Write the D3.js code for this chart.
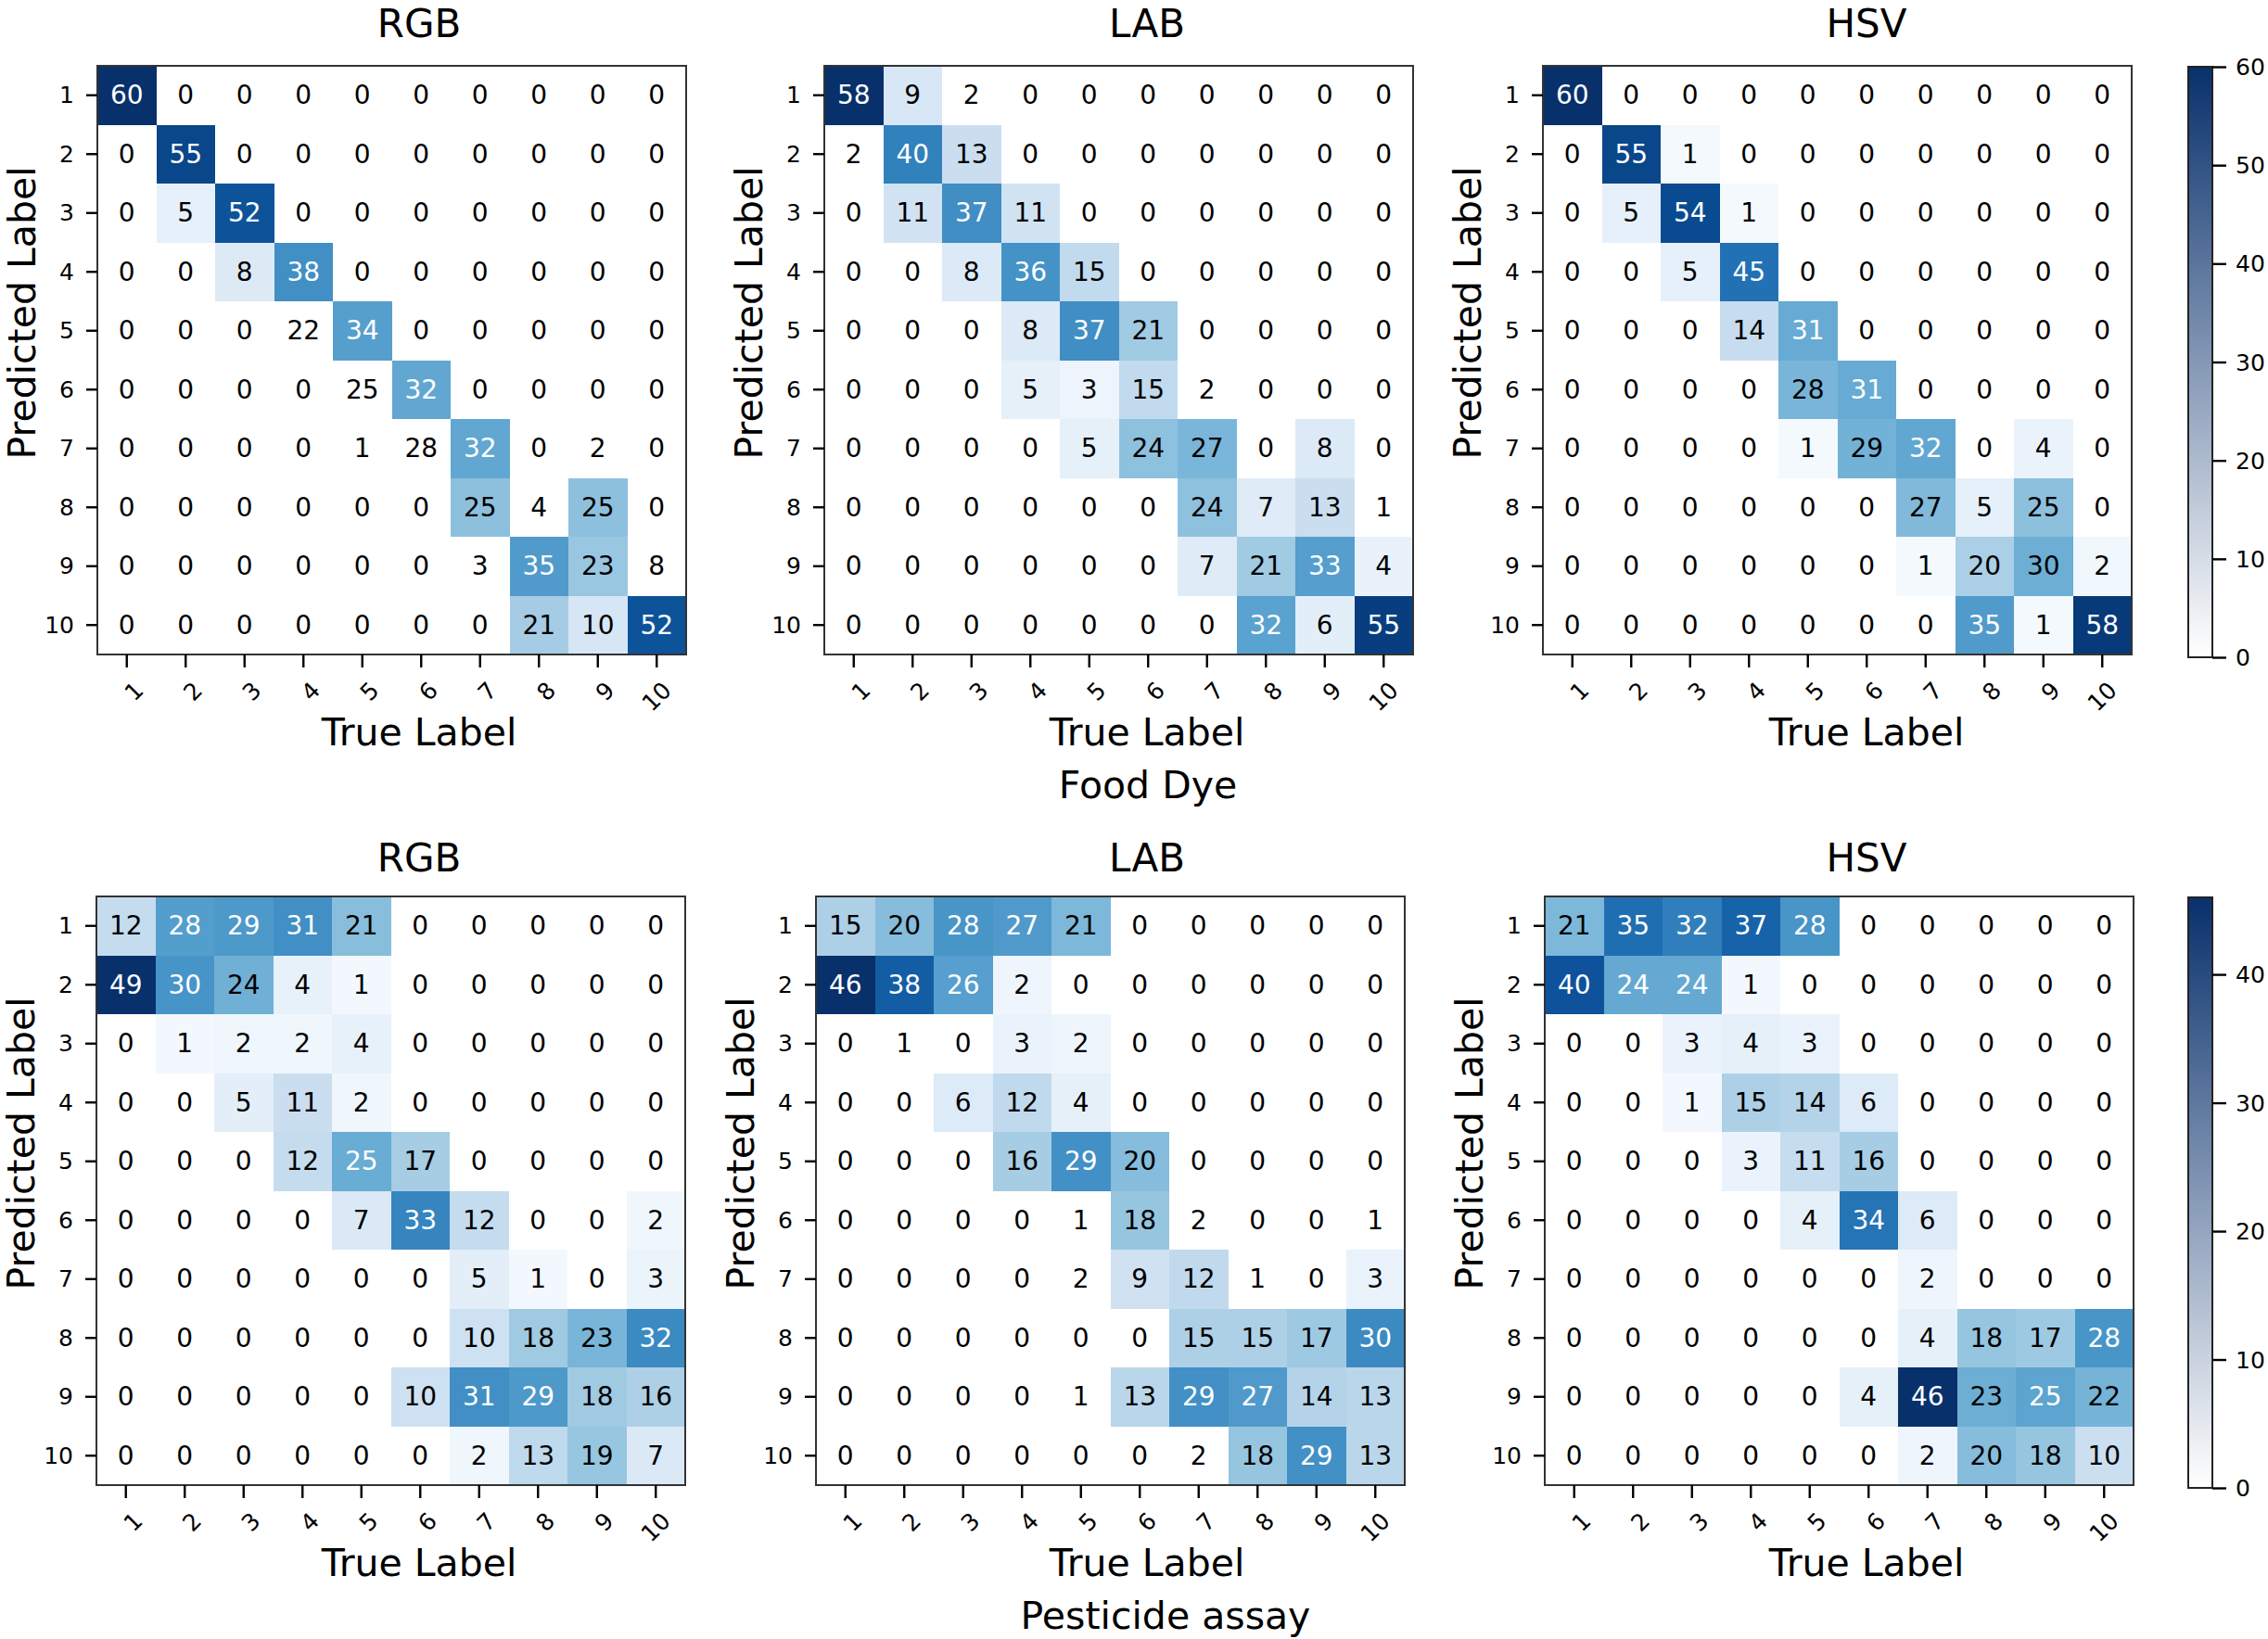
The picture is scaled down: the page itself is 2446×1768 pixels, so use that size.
<!DOCTYPE html>
<html>
<head>
<meta charset="utf-8">
<script src="https://cdn.jsdelivr.net/npm/d3@7"></script>
<style>
  body { margin: 0; background: #fff; }
  text { font-family: "DejaVu Sans", sans-serif; }
</style>
</head>
<body>
<div id="chart"></div>
<script>
// class labels shared by every matrix
var classLabels = ["1", "2", "3", "4", "5", "6", "7", "8", "9", "10"];

// Food dye confusion matrices (rows = predicted, cols = true)
var foodRgb = [
    [60, 0, 0, 0, 0, 0, 0, 0, 0, 0],
    [0, 55, 0, 0, 0, 0, 0, 0, 0, 0],
    [0, 5, 52, 0, 0, 0, 0, 0, 0, 0],
    [0, 0, 8, 38, 0, 0, 0, 0, 0, 0],
    [0, 0, 0, 22, 34, 0, 0, 0, 0, 0],
    [0, 0, 0, 0, 25, 32, 0, 0, 0, 0],
    [0, 0, 0, 0, 1, 28, 32, 0, 2, 0],
    [0, 0, 0, 0, 0, 0, 25, 4, 25, 0],
    [0, 0, 0, 0, 0, 0, 3, 35, 23, 8],
    [0, 0, 0, 0, 0, 0, 0, 21, 10, 52]
];
var foodLab = [
    [58, 9, 2, 0, 0, 0, 0, 0, 0, 0],
    [2, 40, 13, 0, 0, 0, 0, 0, 0, 0],
    [0, 11, 37, 11, 0, 0, 0, 0, 0, 0],
    [0, 0, 8, 36, 15, 0, 0, 0, 0, 0],
    [0, 0, 0, 8, 37, 21, 0, 0, 0, 0],
    [0, 0, 0, 5, 3, 15, 2, 0, 0, 0],
    [0, 0, 0, 0, 5, 24, 27, 0, 8, 0],
    [0, 0, 0, 0, 0, 0, 24, 7, 13, 1],
    [0, 0, 0, 0, 0, 0, 7, 21, 33, 4],
    [0, 0, 0, 0, 0, 0, 0, 32, 6, 55]
];
var foodHsv = [
    [60, 0, 0, 0, 0, 0, 0, 0, 0, 0],
    [0, 55, 1, 0, 0, 0, 0, 0, 0, 0],
    [0, 5, 54, 1, 0, 0, 0, 0, 0, 0],
    [0, 0, 5, 45, 0, 0, 0, 0, 0, 0],
    [0, 0, 0, 14, 31, 0, 0, 0, 0, 0],
    [0, 0, 0, 0, 28, 31, 0, 0, 0, 0],
    [0, 0, 0, 0, 1, 29, 32, 0, 4, 0],
    [0, 0, 0, 0, 0, 0, 27, 5, 25, 0],
    [0, 0, 0, 0, 0, 0, 1, 20, 30, 2],
    [0, 0, 0, 0, 0, 0, 0, 35, 1, 58]
];

// Pesticide assay confusion matrices
var pestRgb = [
    [12, 28, 29, 31, 21, 0, 0, 0, 0, 0],
    [49, 30, 24, 4, 1, 0, 0, 0, 0, 0],
    [0, 1, 2, 2, 4, 0, 0, 0, 0, 0],
    [0, 0, 5, 11, 2, 0, 0, 0, 0, 0],
    [0, 0, 0, 12, 25, 17, 0, 0, 0, 0],
    [0, 0, 0, 0, 7, 33, 12, 0, 0, 2],
    [0, 0, 0, 0, 0, 0, 5, 1, 0, 3],
    [0, 0, 0, 0, 0, 0, 10, 18, 23, 32],
    [0, 0, 0, 0, 0, 10, 31, 29, 18, 16],
    [0, 0, 0, 0, 0, 0, 2, 13, 19, 7]
];
var pestLab = [
    [15, 20, 28, 27, 21, 0, 0, 0, 0, 0],
    [46, 38, 26, 2, 0, 0, 0, 0, 0, 0],
    [0, 1, 0, 3, 2, 0, 0, 0, 0, 0],
    [0, 0, 6, 12, 4, 0, 0, 0, 0, 0],
    [0, 0, 0, 16, 29, 20, 0, 0, 0, 0],
    [0, 0, 0, 0, 1, 18, 2, 0, 0, 1],
    [0, 0, 0, 0, 2, 9, 12, 1, 0, 3],
    [0, 0, 0, 0, 0, 0, 15, 15, 17, 30],
    [0, 0, 0, 0, 1, 13, 29, 27, 14, 13],
    [0, 0, 0, 0, 0, 0, 2, 18, 29, 13]
];
var pestHsv = [
    [21, 35, 32, 37, 28, 0, 0, 0, 0, 0],
    [40, 24, 24, 1, 0, 0, 0, 0, 0, 0],
    [0, 0, 3, 4, 3, 0, 0, 0, 0, 0],
    [0, 0, 1, 15, 14, 6, 0, 0, 0, 0],
    [0, 0, 0, 3, 11, 16, 0, 0, 0, 0],
    [0, 0, 0, 0, 4, 34, 6, 0, 0, 0],
    [0, 0, 0, 0, 0, 0, 2, 0, 0, 0],
    [0, 0, 0, 0, 0, 0, 4, 18, 17, 28],
    [0, 0, 0, 0, 0, 4, 46, 23, 25, 22],
    [0, 0, 0, 0, 0, 0, 2, 20, 18, 10]
];

// cells (row, col, 1-based) that carry a count but are left unshaded in the figure
var foodRgbUnshaded = [[5, 4], [6, 5], [7, 5], [7, 6], [7, 9], [8, 8], [9, 7], [9, 10]];
var foodLabUnshaded = [[1, 3], [2, 1], [6, 7], [8, 10]];
var pestLabUnshaded = [[3, 2], [6, 5], [6, 7], [6, 10], [7, 5], [7, 8], [9, 5], [10, 7]];

// colourbar ticks
var foodTicks = [0, 10, 20, 30, 40, 50, 60];
var pestTicks = [0, 10, 20, 30, 40];

var W = 2446, H = 1768;
var size = 635;
var tickFont = 25, cellFont = 28, labelFont = 41;
var labelCenters = [452, 1237, 2013];

var svg = d3.select("#chart")
    .append("svg")
    .attr("width", W)
    .attr("height", H);

function drawMatrix(opts) {
    var matrix = opts.matrix;
    var unshaded = opts.unshaded || [];
    var vmax = d3.max(matrix, function (r) { return d3.max(r); });

    var x = d3.scaleBand().domain(classLabels).range([0, size]);
    var y = d3.scaleBand().domain(classLabels).range([0, size]);
    var color = d3.scaleSequential(d3.interpolateBlues).domain([0, vmax]);

    var g = svg.append("g")
        .attr("transform", "translate(" + opts.x + "," + opts.y + ")");

    var cells = [];
    matrix.forEach(function (row, i) {
        row.forEach(function (v, j) {
            var blank = unshaded.some(function (c) { return c[0] === i + 1 && c[1] === j + 1; });
            cells.push({ row: classLabels[i], col: classLabels[j], value: v, blank: blank });
        });
    });

    g.selectAll("rect.cell")
        .data(cells)
        .enter()
        .append("rect")
        .attr("class", "cell")
        .attr("x", function (d) { return x(d.col); })
        .attr("y", function (d) { return y(d.row); })
        .attr("width", x.bandwidth() + 0.5)
        .attr("height", y.bandwidth() + 0.5)
        .attr("shape-rendering", "crispEdges")
        .style("fill", function (d) {
            return (d.value === 0 || d.blank) ? "#ffffff" : color(d.value);
        });

    // matplotlib style: white text when above the midpoint
    g.selectAll("text.val")
        .data(cells)
        .enter()
        .append("text")
        .attr("class", "val")
        .attr("x", function (d) { return x(d.col) + x.bandwidth() / 2; })
        .attr("y", function (d) { return y(d.row) + y.bandwidth() / 2; })
        .attr("text-anchor", "middle")
        .attr("dominant-baseline", "central")
        .style("font-size", cellFont + "px")
        .style("fill", function (d) { return d.value > vmax / 2 ? "#ffffff" : "#000000"; })
        .text(function (d) { return d.value; });

    g.append("rect")
        .attr("width", size)
        .attr("height", size)
        .style("fill", "none")
        .style("stroke", "#333")
        .style("stroke-width", 2);

    // y axis
    var ya = g.append("g").call(d3.axisLeft(y).tickSize(12).tickPadding(13));
    ya.select(".domain").remove();
    ya.selectAll("line").style("stroke", "#000").style("stroke-width", 2.4);
    ya.selectAll("text")
        .style("font-size", tickFont + "px")
        .style("font-family", "DejaVu Sans")
        .attr("dy", null)
        .attr("dominant-baseline", "central");

    // x axis with rotated labels
    var xa = g.append("g")
        .attr("transform", "translate(0," + size + ")")
        .call(d3.axisBottom(x).tickSize(14));
    xa.select(".domain").remove();
    xa.selectAll("line").style("stroke", "#000").style("stroke-width", 2.4);
    var twoDigits = 2 * 0.636 * tickFont;
    xa.selectAll("text")
        .style("font-size", tickFont + "px")
        .style("font-family", "DejaVu Sans")
        .attr("y", null)
        .attr("dy", null)
        .attr("text-anchor", "middle")
        .attr("dominant-baseline", "central")
        .attr("transform", function () {
            var w = this.getComputedTextLength();
            var dx = Math.max(0, twoDigits - w) * 0.5;
            var off = 24 + (w + 1.16 * tickFont) * 0.3536;
            return "translate(" + dx + "," + off + ") rotate(-45)";
        });

    // titles and axis labels
    var cx = opts.labelX - opts.x;
    g.append("text")
        .attr("x", cx)
        .attr("y", opts.titleY - opts.y)
        .attr("text-anchor", "middle")
        .style("font-size", (labelFont + 1) + "px")
        .text(opts.title);

    g.append("text")
        .attr("x", cx)
        .attr("y", size + 98)
        .attr("text-anchor", "middle")
        .style("font-size", labelFont + "px")
        .text("True Label");

    g.append("text")
        .attr("transform", "translate(-67," + (size / 2 - 51) + ") rotate(-90)")
        .attr("text-anchor", "middle")
        .style("font-size", labelFont + "px")
        .text("Predicted Label");
}

function drawColorbar(opts) {
    var vmax = d3.max(opts.matrix, function (r) { return d3.max(r); });
    var h = size + 2;
    var cw = 26;
    var interp = d3.interpolateRgb("#ffffff", "#08306b");

    var gradId = "grad" + opts.id;
    var grad = svg.append("defs")
        .append("linearGradient")
        .attr("id", gradId)
        .attr("x1", 0).attr("y1", 1)
        .attr("x2", 0).attr("y2", 0);
    d3.range(0, 1.0001, 0.1).forEach(function (t) {
        grad.append("stop")
            .attr("offset", t)
            .attr("stop-color", interp(t));
    });

    var g = svg.append("g")
        .attr("transform", "translate(" + opts.x + "," + opts.y + ")");

    g.append("rect")
        .attr("width", cw)
        .attr("height", h)
        .style("fill", "url(#" + gradId + ")")
        .style("stroke", "#222")
        .style("stroke-width", 2);

    var scale = d3.scaleLinear().domain([0, vmax]).range([h, 0]);
    var ax = g.append("g")
        .attr("transform", "translate(" + cw + ",0)")
        .call(d3.axisRight(scale).tickValues(opts.ticks).tickSize(15).tickPadding(10));
    ax.select(".domain").remove();
    ax.selectAll("line").style("stroke", "#000").style("stroke-width", 2.4);
    ax.selectAll("text")
        .style("font-size", tickFont + "px")
        .style("font-family", "DejaVu Sans")
        .attr("dy", null)
        .attr("dominant-baseline", "central");
}

var rows = [
    {
        y: 71, titleY: 40, xs: [105, 889, 1664],
        mats: [foodRgb, foodLab, foodHsv],
        unshaded: [foodRgbUnshaded, foodLabUnshaded, []],
        name: "Food Dye", nameX: 1238, nameY: 861,
        ticks: foodTicks
    },
    {
        y: 967, titleY: 940, xs: [104, 880, 1666],
        mats: [pestRgb, pestLab, pestHsv],
        unshaded: [[], pestLabUnshaded, []],
        name: "Pesticide assay", nameX: 1257, nameY: 1757,
        ticks: pestTicks
    }
];
var titles = ["RGB", "LAB", "HSV"];

rows.forEach(function (r, ri) {
    r.mats.forEach(function (m, k) {
        drawMatrix({
            matrix: m,
            unshaded: r.unshaded[k],
            x: r.xs[k],
            y: r.y,
            title: titles[k],
            titleY: r.titleY,
            labelX: labelCenters[k]
        });
    });

    // colourbar follows the last panel of the row
    drawColorbar({ id: ri, matrix: r.mats[2], ticks: r.ticks, x: 2360, y: r.y + 1 });

    svg.append("text")
        .attr("x", r.nameX)
        .attr("y", r.nameY)
        .attr("text-anchor", "middle")
        .style("font-size", labelFont + "px")
        .text(r.name);
});
</script>
</body>
</html>
